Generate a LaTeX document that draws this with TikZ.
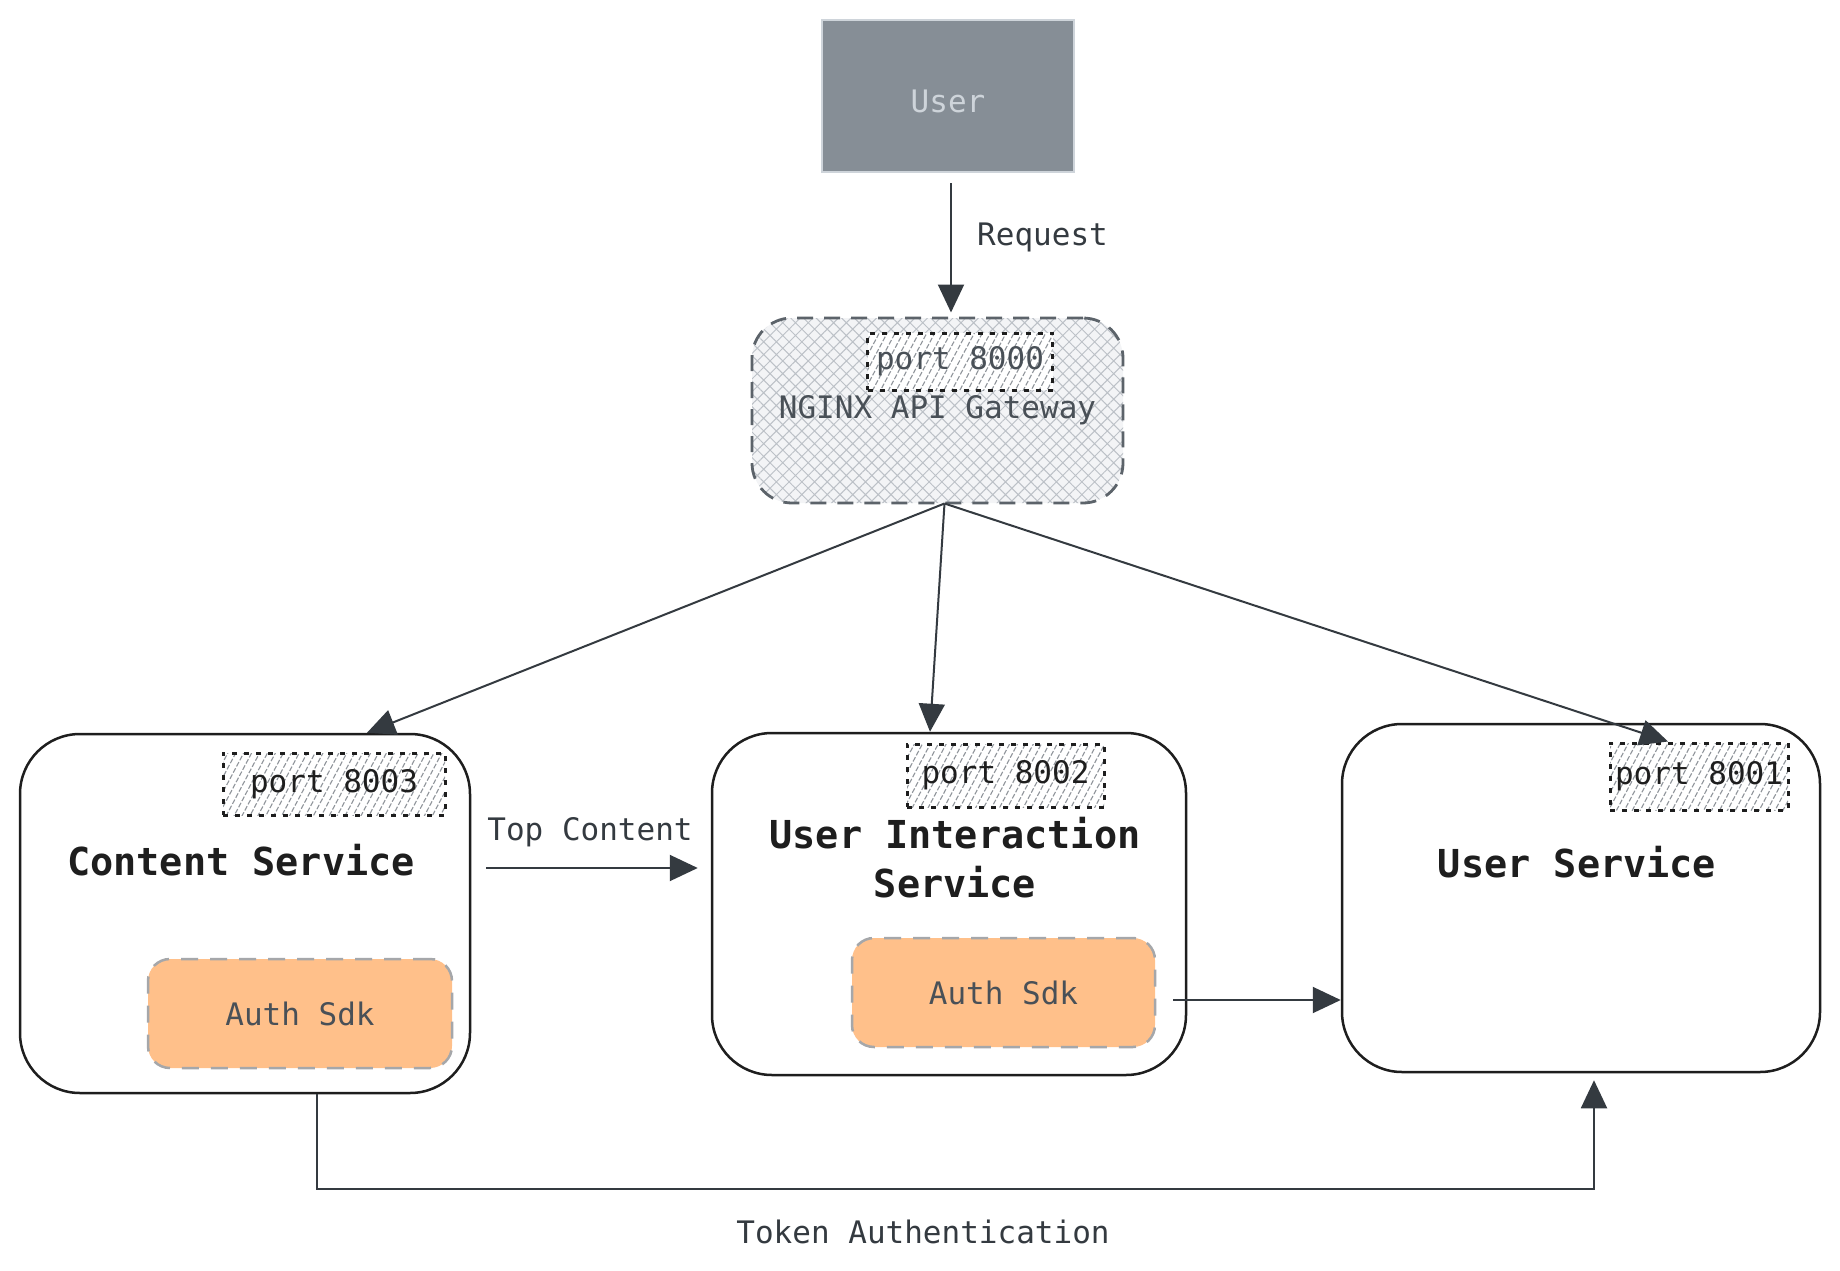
\documentclass[tikz,border=0pt]{standalone}
\usepackage{fontspec}
\setmonofont{DejaVu Sans Mono}
\usetikzlibrary{arrows.meta,patterns.meta}
\definecolor{ink}{HTML}{1E1E1E}
\definecolor{arrowgray}{HTML}{343A40}
\definecolor{textgray}{HTML}{495057}
\definecolor{usergray}{HTML}{868E96}
\definecolor{userline}{HTML}{CED4DA}
\definecolor{gwline}{HTML}{5C636A}
\definecolor{gwfill}{HTML}{F3F4F6}
\definecolor{gwhatch}{HTML}{BCC1C7}
\definecolor{porthatch}{HTML}{90959B}
\definecolor{sdkfill}{HTML}{FFC08A}
\definecolor{sdkline}{HTML}{A5A7AA}
\tikzstyle{labeltext} = [font=\ttfamily\fontsize{31}{37}\selectfont, inner sep=0pt]
\tikzstyle{titletext} = [font=\ttfamily\bfseries\fontsize{38.5}{49}\selectfont,
  text=ink, inner sep=0pt, align=center]
\tikzstyle{userbox} = [draw=userline, fill=usergray, line width=2.5pt,
  labeltext, text=userline, text height=34pt, text depth=0pt]
\tikzstyle{gateway} = [draw=gwline, line width=2.8pt, dash pattern=on 16pt off 11pt,
  rounded corners=40pt, preaction={fill=gwfill},
  pattern={Hatch[angle=45,distance=9pt,line width=1pt]}, pattern color=gwhatch,
  labeltext, text=textgray]
\tikzstyle{port} = [draw=ink, line width=3pt, dash pattern=on 5pt off 7pt,
  preaction={fill=white},
  pattern={Lines[angle=62,distance=7pt,line width=1.1pt]}, pattern color=porthatch,
  labeltext, text=ink]
\tikzstyle{service} = [draw=ink, line width=2.5pt, rounded corners=60pt, fill=white]
\tikzstyle{sdk} = [draw=sdkline, line width=2.5pt, dash pattern=on 17pt off 12pt,
  rounded corners=22pt, fill=sdkfill, labeltext, text=textgray]
\tikzstyle{link} = [draw=arrowgray, line width=2pt, -{Triangle[length=28pt,width=26pt]}]
\newcommand{\diagnode}[5]{node (#1) [#2, minimum width=#3pt, minimum height=#4pt] {#5}}

\begin{document}
\begin{tikzpicture}[x=1pt, y=-1pt]
\useasboundingbox (0,0) rectangle (1840,1271);
% Draw diagram elements
\path (948,96)         \diagnode{user}{userbox}{252}{152}{User};
\path (937.5,410.5)    \diagnode{gw}{gateway}{371}{185}{NGINX API Gateway};
\path (960,361.5)      \diagnode{p0}{port, text=textgray}{185}{57}{port 8000};
\path (245,913.5)      \diagnode{content}{service}{450}{359}{};
\path (949,904)        \diagnode{uis}{service}{474}{342}{};
\path (1581,898)       \diagnode{us}{service}{478}{348}{};
\path (334,784)        \diagnode{p3}{port}{222}{62}{port 8003};
\path (1005.5,775.5)   \diagnode{p2}{port}{197}{63}{port 8002};
\path (1699,776.5)     \diagnode{p1}{port}{178}{67}{port 8001};
\path (300,1013.5)     \diagnode{sdk1}{sdk}{304}{109}{Auth Sdk};
\path (1003.5,992.5)   \diagnode{sdk2}{sdk}{303}{109}{Auth Sdk};

% Titles and labels
\node (ctitle) [titletext, anchor=base] at (241,875) {Content Service};
\node (uititle) [titletext] at (955,858) {User Interaction\\Service};
\node (ustitle) [titletext, anchor=base] at (1577,877) {User Service};
\node (reqlabel) [labeltext, text=arrowgray, anchor=base west] at (977,245) {Request};
\node (toplabel) [labeltext, text=arrowgray, anchor=base] at (590,840) {Top Content};
\node (toklabel) [labeltext, text=arrowgray, anchor=base] at (923,1243) {Token Authentication};
\coordinate (tokturn) at (1594,1189);

% Draw arrows between elements
\path [link, shorten <=10pt, shorten >=5pt] ([xshift=3pt]user.south) -- ([xshift=3pt]user.south |- gw.north);
\path [link] ([xshift=7pt]gw.south) -- ([xshift=122pt]content.north);
\path [link] ([xshift=7pt]gw.south) -- ([xshift=-19pt]uis.north);
\path [link] ([xshift=7pt]gw.south) -- ([xshift=-31pt]p1.north);
\path [link, shorten <=15pt, shorten >=13pt] ([yshift=45.5pt]content.east) -- ([yshift=45.5pt]content.east -| uis.west);
\path [link, shorten <=17pt] ([yshift=-7.5pt]sdk2.east) -- ([yshift=-7.5pt]sdk2.east -| us.west);
\path [link, shorten >=7pt] ([xshift=72pt]content.south) |- (tokturn) -- ([xshift=13pt]us.south);
\end{tikzpicture}
\end{document}
